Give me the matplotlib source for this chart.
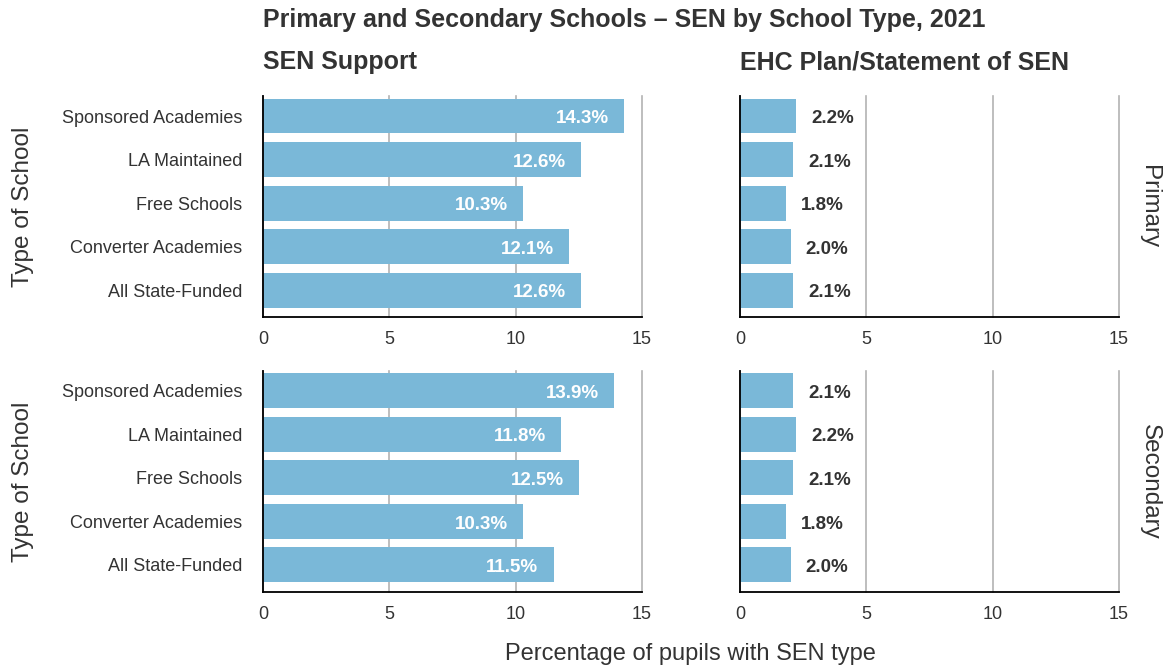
"""SEN by school type, 2021 - faceted bar chart."""

import matplotlib.pyplot as plt

plt.rcParams["font.family"] = ["Liberation Sans", "DejaVu Sans"]

schools = ["Sponsored Academies", "LA Maintained", "Free Schools",
           "Converter Academies", "All State-Funded"]
phases = ["Primary", "Secondary"]
sen_types = ["SEN Support", "EHC Plan/Statement of SEN"]

primary_support = [14.3, 12.6, 10.3, 12.1, 12.6]
primary_ehc = [2.2, 2.1, 1.8, 2.0, 2.1]
secondary_support = [13.9, 11.8, 12.5, 10.3, 11.5]
secondary_ehc = [2.1, 2.2, 2.1, 1.8, 2.0]

values = [[primary_support, primary_ehc],
          [secondary_support, secondary_ehc]]

BAR = "#7ab8d8"
TEXT = "#333333"
GRID = "#b3b3b3"

fig = plt.figure(figsize=(11.7, 6.65), dpi=100)
fig.patch.set_facecolor("white")

lefts = [0.2248, 0.6325]
bottoms = [0.523, 0.110]
width = 0.324
height = 0.332

ypos = list(range(len(schools)))

for r, phase in enumerate(phases):
    for c, sen in enumerate(sen_types):
        ax = fig.add_axes([lefts[c], bottoms[r], width, height])
        vals = values[r][c]
        ax.barh(ypos, vals, height=0.8, color=BAR, zorder=2)
        ax.set_xlim(0, 15)
        ax.set_ylim(4.62, -0.45)
        ax.set_xticks([0, 5, 10, 15])
        ax.grid(axis="x", color=GRID, linewidth=1.2, zorder=0)
        for gl in ax.get_xgridlines():
            gl.set_clip_on(False)
        for s in ["top", "right"]:
            ax.spines[s].set_visible(False)
        ax.spines["left"].set_color("black")
        ax.spines["bottom"].set_color("black")
        ax.spines["left"].set_linewidth(1.3)
        ax.spines["bottom"].set_linewidth(1.3)
        ax.tick_params(axis="both", length=0, labelsize=13,
                       labelcolor=TEXT)
        ax.tick_params(axis="x", pad=10)
        ax.tick_params(axis="y", pad=15)
        ax.set_yticks(ypos)
        if c == 0:
            ax.set_yticklabels(schools)
            ax.set_ylabel("Type of School", fontsize=17.5, color=TEXT,
                          labelpad=20)
            for y, v in zip(ypos, vals):
                ax.annotate(f"{v:.1f}%", (v, y), xytext=(-11, -2),
                            textcoords="offset points", ha="right",
                            va="center", color="white", fontsize=13.5,
                            fontweight="bold")
        else:
            ax.set_yticklabels([])
            for y, v in zip(ypos, vals):
                ax.annotate(f"{v:.1f}%", (v, y), xytext=(11, -2),
                            textcoords="offset points", ha="left",
                            va="center", color=TEXT, fontsize=13.5,
                            fontweight="bold")
            ax.text(1.08, 0.5, phase, transform=ax.transAxes, rotation=-90,
                    ha="center", va="center", fontsize=17.5, color=TEXT)
        if r == 0:
            ax.text(0, 1.10, sen, transform=ax.transAxes, ha="left",
                    va="bottom", fontsize=18, fontweight="bold",
                    color=TEXT)

fig.text(0.2248, 0.952, "Primary and Secondary Schools \u2013 SEN by School Type, 2021",
         ha="left", va="bottom", fontsize=18, fontweight="bold", color=TEXT)
fig.text(0.59, 0.0, "Percentage of pupils with SEN type", ha="center",
         va="bottom", fontsize=17, color=TEXT)

fig.savefig("out.png", dpi=100, facecolor=fig.get_facecolor())
